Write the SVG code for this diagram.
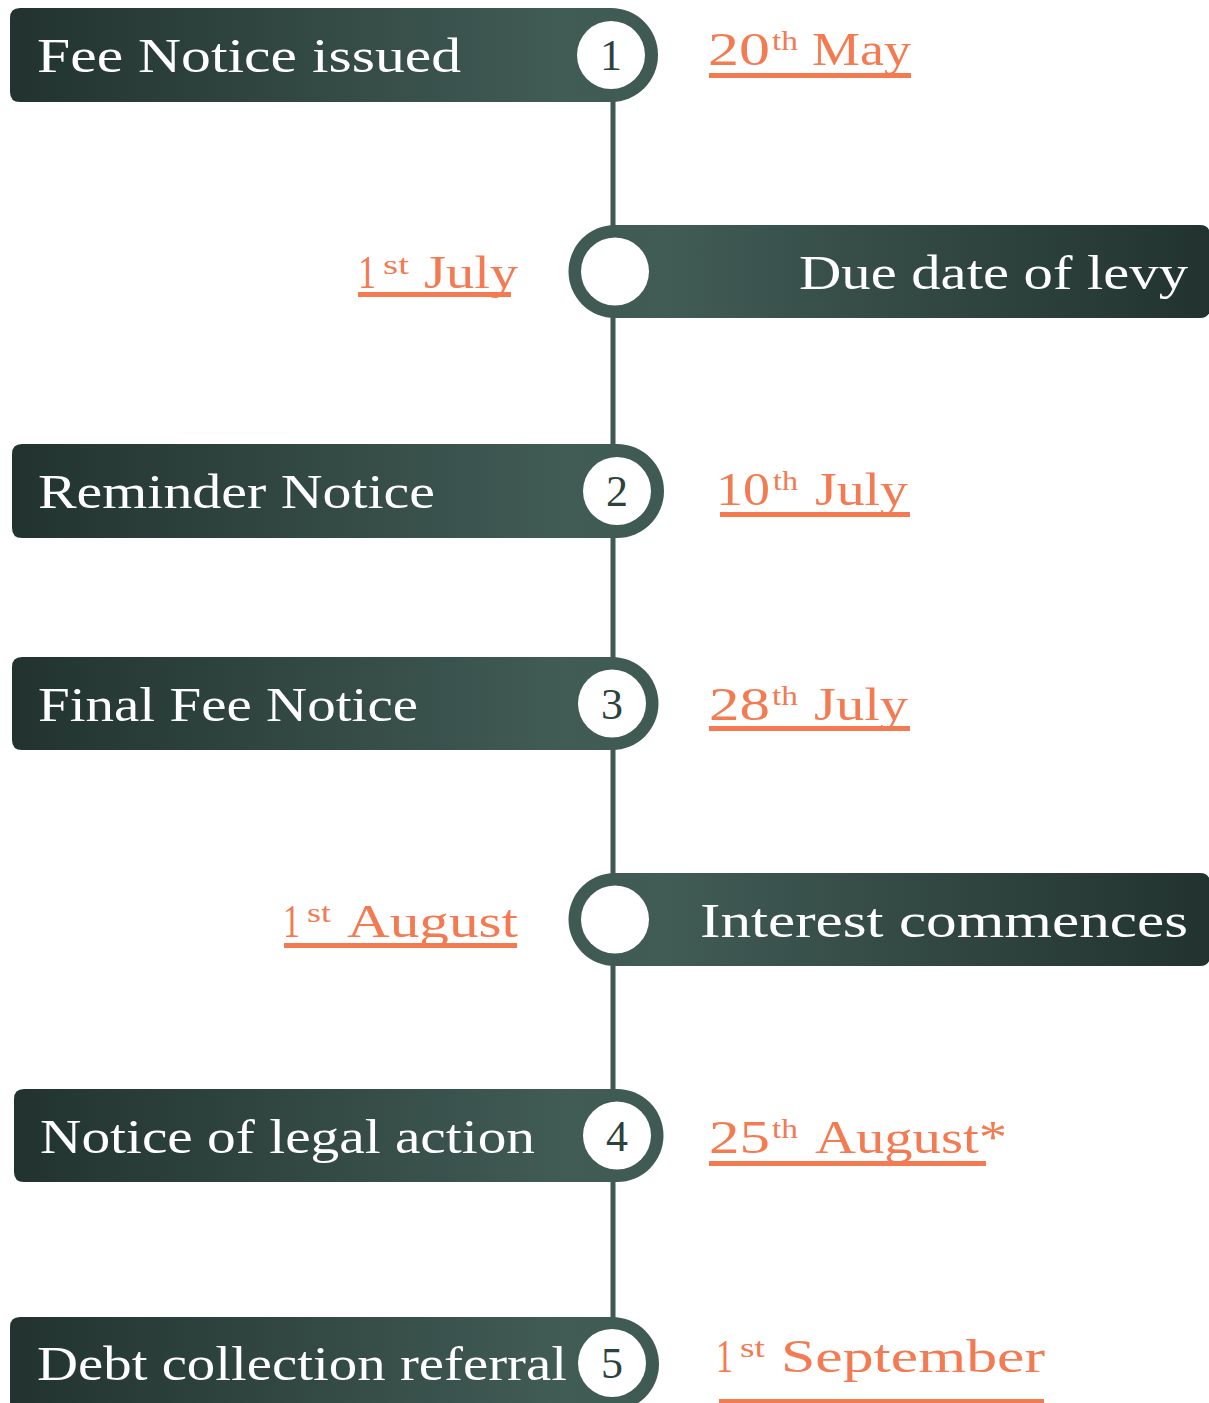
<svg xmlns="http://www.w3.org/2000/svg" width="1209" height="1403" viewBox="0 0 1209 1403">
<defs>
<linearGradient id="gl" x1="0" y1="0" x2="1" y2="0"><stop offset="0" stop-color="#22332f"/><stop offset="0.85" stop-color="#415b55"/><stop offset="1" stop-color="#3f5953"/></linearGradient>
<linearGradient id="gr" x1="0" y1="0" x2="1" y2="0"><stop offset="0" stop-color="#3f5953"/><stop offset="0.15" stop-color="#415b55"/><stop offset="1" stop-color="#22332f"/></linearGradient>
<style>
.bl{fill:url(#gl)}
.br{fill:url(#gr)}
.dot{fill:#ffffff}
.lbl{font-family:"Liberation Serif","Times New Roman",serif;font-size:49px;fill:#ffffff}
.num{font-family:"Liberation Serif","Times New Roman",serif;font-size:44px;fill:#2c423d;text-anchor:middle}
.dt{font-family:"Liberation Serif","Times New Roman",serif;font-size:46px;fill:#f47a52}
.sup{font-family:"Liberation Serif","Times New Roman",serif;font-size:28px;fill:#f47a52}
.ul{fill:#f47a52}
.con{stroke:#3f5953;stroke-width:5;fill:none}
</style>
</defs>
<g id="connectors">
<line class="con" x1="613" y1="100" x2="613" y2="228"/>
<line class="con" x1="613" y1="315" x2="613" y2="447"/>
<line class="con" x1="613" y1="535" x2="613" y2="660"/>
<line class="con" x1="613" y1="747" x2="613" y2="876"/>
<line class="con" x1="613" y1="963" x2="613" y2="1092"/>
<line class="con" x1="613" y1="1179" x2="613" y2="1320"/>
</g>
<g id="node1">
<path class="bl" d="M20,8 H611 A47,47 0 0 1 611,102 H20 Q10,102 10,92 V18 Q10,8 20,8 Z"/>
<circle class="dot" cx="611" cy="55" r="34"/>
<text class="num" x="611" y="70">1</text>
<text class="lbl" x="37" y="72" textLength="424" lengthAdjust="spacingAndGlyphs">Fee Notice issued</text>
<text class="dt" x="708" y="65" textLength="62" lengthAdjust="spacingAndGlyphs">20</text>
<text class="sup" x="772" y="50" textLength="26" lengthAdjust="spacingAndGlyphs">th</text>
<text class="dt" x="812" y="65" textLength="99" lengthAdjust="spacingAndGlyphs">May</text>
<rect class="ul" x="709" y="73" width="202" height="5"/>
</g>
<g id="node2">
<path class="br" d="M615,225 H1200 Q1210,225 1210,235 V308 Q1210,318 1200,318 H615 A46.5,46.5 0 0 1 615,225 Z"/>
<circle class="dot" cx="615" cy="271.5" r="34"/>
<text class="lbl" x="799" y="289" textLength="389" lengthAdjust="spacingAndGlyphs">Due date of levy</text>
<text class="dt" x="358" y="288" textLength="18" lengthAdjust="spacingAndGlyphs">1</text>
<text class="sup" x="383" y="274" textLength="26" lengthAdjust="spacingAndGlyphs">st</text>
<text class="dt" x="424" y="288" textLength="94" lengthAdjust="spacingAndGlyphs">July</text>
<rect class="ul" x="358" y="292" width="153" height="5"/>
</g>
<g id="node3">
<path class="bl" d="M22,444 H617 A47,47 0 0 1 617,538 H22 Q12,538 12,528 V454 Q12,444 22,444 Z"/>
<circle class="dot" cx="617" cy="491" r="34"/>
<text class="num" x="617" y="506">2</text>
<text class="lbl" x="38" y="508" textLength="397" lengthAdjust="spacingAndGlyphs">Reminder Notice</text>
<text class="dt" x="716" y="505" textLength="54" lengthAdjust="spacingAndGlyphs">10</text>
<text class="sup" x="773" y="490" textLength="25" lengthAdjust="spacingAndGlyphs">th</text>
<text class="dt" x="815" y="505" textLength="93" lengthAdjust="spacingAndGlyphs">July</text>
<rect class="ul" x="720" y="512" width="190" height="5"/>
</g>
<g id="node4">
<path class="bl" d="M22,657 H612 A46.5,46.5 0 0 1 612,750 H22 Q12,750 12,740 V667 Q12,657 22,657 Z"/>
<circle class="dot" cx="612" cy="703.5" r="34"/>
<text class="num" x="612" y="719">3</text>
<text class="lbl" x="38" y="721" textLength="380" lengthAdjust="spacingAndGlyphs">Final Fee Notice</text>
<text class="dt" x="709" y="720" textLength="61" lengthAdjust="spacingAndGlyphs">28</text>
<text class="sup" x="772" y="705" textLength="26" lengthAdjust="spacingAndGlyphs">th</text>
<text class="dt" x="814" y="720" textLength="94" lengthAdjust="spacingAndGlyphs">July</text>
<rect class="ul" x="709" y="726" width="201" height="5"/>
</g>
<g id="node5">
<path class="br" d="M615,873 H1200 Q1210,873 1210,883 V956 Q1210,966 1200,966 H615 A46.5,46.5 0 0 1 615,873 Z"/>
<circle class="dot" cx="615" cy="919.5" r="34"/>
<text class="lbl" x="700" y="937" textLength="488" lengthAdjust="spacingAndGlyphs">Interest commences</text>
<text class="dt" x="283" y="937" textLength="17" lengthAdjust="spacingAndGlyphs">1</text>
<text class="sup" x="307" y="922" textLength="24" lengthAdjust="spacingAndGlyphs">st</text>
<text class="dt" x="347" y="937" textLength="171" lengthAdjust="spacingAndGlyphs">August</text>
<rect class="ul" x="284" y="943" width="233" height="5"/>
</g>
<g id="node6">
<path class="bl" d="M24,1089 H617 A46.5,46.5 0 0 1 617,1182 H24 Q14,1182 14,1172 V1099 Q14,1089 24,1089 Z"/>
<circle class="dot" cx="617" cy="1135.5" r="34"/>
<text class="num" x="617" y="1151">4</text>
<text class="lbl" x="40" y="1153" textLength="495" lengthAdjust="spacingAndGlyphs">Notice of legal action</text>
<text class="dt" x="709" y="1153" textLength="61" lengthAdjust="spacingAndGlyphs">25</text>
<text class="sup" x="772" y="1138" textLength="26" lengthAdjust="spacingAndGlyphs">th</text>
<text class="dt" x="815" y="1153" textLength="192" lengthAdjust="spacingAndGlyphs">August*</text>
<rect class="ul" x="709" y="1161" width="277" height="5"/>
</g>
<g id="node7">
<path class="bl" d="M20,1317 H612 A47,47 0 0 1 612,1411 H20 Q10,1411 10,1401 V1327 Q10,1317 20,1317 Z"/>
<circle class="dot" cx="612" cy="1363" r="34"/>
<text class="num" x="612" y="1378">5</text>
<text class="lbl" x="37" y="1380" textLength="530" lengthAdjust="spacingAndGlyphs">Debt collection referral</text>
<text class="dt" x="716" y="1372" textLength="17" lengthAdjust="spacingAndGlyphs">1</text>
<text class="sup" x="740" y="1357" textLength="25" lengthAdjust="spacingAndGlyphs">st</text>
<text class="dt" x="781" y="1372" textLength="264" lengthAdjust="spacingAndGlyphs">September</text>
<rect class="ul" x="719" y="1399" width="325" height="4"/>
</g>
</svg>
